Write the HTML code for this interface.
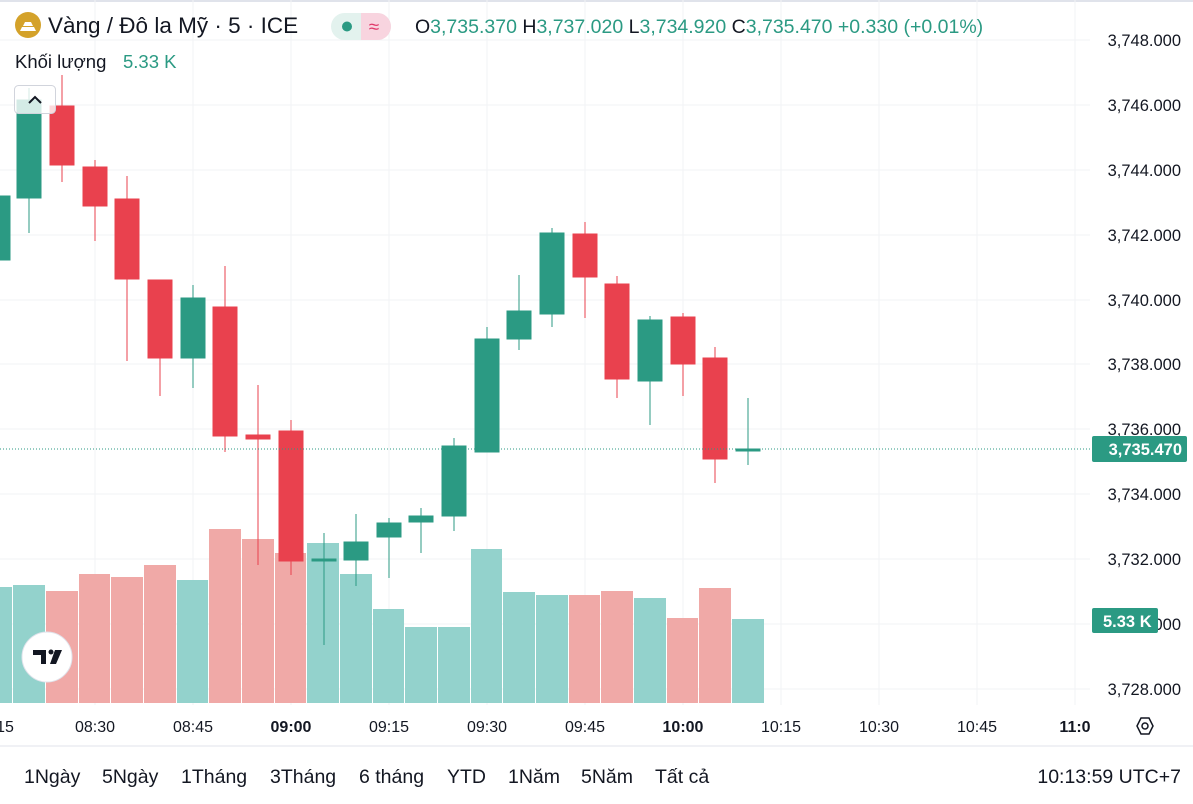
<!DOCTYPE html>
<html><head><meta charset="utf-8"><style>
body{margin:0;width:1193px;height:804px;overflow:hidden;background:#fff;font-family:"Liberation Sans",sans-serif}
svg{position:absolute;left:0;top:0}
</style></head><body>
<svg width="1193" height="804" xmlns="http://www.w3.org/2000/svg" font-family="Liberation Sans, sans-serif">
<rect x="0" y="0" width="1193" height="2" fill="#e0e3eb"/>
<g stroke="#f2f3f5" stroke-width="1">
<line x1="0" y1="40" x2="1090" y2="40"/><line x1="0" y1="105" x2="1090" y2="105"/><line x1="0" y1="170" x2="1090" y2="170"/><line x1="0" y1="235" x2="1090" y2="235"/><line x1="0" y1="300" x2="1090" y2="300"/><line x1="0" y1="364" x2="1090" y2="364"/><line x1="0" y1="429" x2="1090" y2="429"/><line x1="0" y1="494" x2="1090" y2="494"/><line x1="0" y1="559" x2="1090" y2="559"/><line x1="0" y1="624" x2="1090" y2="624"/><line x1="0" y1="689" x2="1090" y2="689"/>
<line x1="95" y1="0" x2="95" y2="705"/><line x1="193" y1="0" x2="193" y2="705"/><line x1="291" y1="0" x2="291" y2="705"/><line x1="389" y1="0" x2="389" y2="705"/><line x1="487" y1="0" x2="487" y2="705"/><line x1="585" y1="0" x2="585" y2="705"/><line x1="683" y1="0" x2="683" y2="705"/><line x1="781" y1="0" x2="781" y2="705"/><line x1="879" y1="0" x2="879" y2="705"/><line x1="977" y1="0" x2="977" y2="705"/><line x1="1075" y1="0" x2="1075" y2="705"/>
</g>
<g>
<rect x="0" y="587" width="12" height="116" fill="#93d2cc"/>
<rect x="13" y="585" width="32" height="118" fill="#93d2cc"/>
<rect x="46" y="591" width="32" height="112" fill="#f0a9a7"/>
<rect x="79" y="574" width="31" height="129" fill="#f0a9a7"/>
<rect x="111" y="577" width="32" height="126" fill="#f0a9a7"/>
<rect x="144" y="565" width="32" height="138" fill="#f0a9a7"/>
<rect x="177" y="580" width="31" height="123" fill="#93d2cc"/>
<rect x="209" y="529" width="32" height="174" fill="#f0a9a7"/>
<rect x="242" y="539" width="32" height="164" fill="#f0a9a7"/>
<rect x="275" y="553" width="31" height="150" fill="#f0a9a7"/>
<rect x="307" y="543" width="32" height="160" fill="#93d2cc"/>
<rect x="340" y="574" width="32" height="129" fill="#93d2cc"/>
<rect x="373" y="609" width="31" height="94" fill="#93d2cc"/>
<rect x="405" y="627" width="32" height="76" fill="#93d2cc"/>
<rect x="438" y="627" width="32" height="76" fill="#93d2cc"/>
<rect x="471" y="549" width="31" height="154" fill="#93d2cc"/>
<rect x="503" y="592" width="32" height="111" fill="#93d2cc"/>
<rect x="536" y="595" width="32" height="108" fill="#93d2cc"/>
<rect x="569" y="595" width="31" height="108" fill="#f0a9a7"/>
<rect x="601" y="591" width="32" height="112" fill="#f0a9a7"/>
<rect x="634" y="598" width="32" height="105" fill="#93d2cc"/>
<rect x="667" y="618" width="31" height="85" fill="#f0a9a7"/>
<rect x="699" y="588" width="32" height="115" fill="#f0a9a7"/>
<rect x="732" y="619" width="32" height="84" fill="#93d2cc"/>
</g>
<g stroke-width="1">
<g fill="#2b9a83" stroke="#2b9a83">
<rect x="0" y="196" width="10" height="64"/>
<line x1="29" y1="88" x2="29" y2="233"/><rect x="17" y="100" width="24" height="98"/>
<line x1="193" y1="285" x2="193" y2="388"/><rect x="181" y="298" width="24" height="60"/>
<line x1="324" y1="533" x2="324" y2="645"/><rect x="312" y="559" width="24" height="2"/>
<line x1="356" y1="514" x2="356" y2="586"/><rect x="344" y="542" width="24" height="18"/>
<line x1="389" y1="518" x2="389" y2="578"/><rect x="377" y="523" width="24" height="14"/>
<line x1="421" y1="508" x2="421" y2="553"/><rect x="409" y="516" width="24" height="6"/>
<line x1="454" y1="438" x2="454" y2="531"/><rect x="442" y="446" width="24" height="70"/>
<line x1="487" y1="327" x2="487" y2="452"/><rect x="475" y="339" width="24" height="113"/>
<line x1="519" y1="275" x2="519" y2="350"/><rect x="507" y="311" width="24" height="28"/>
<line x1="552" y1="228" x2="552" y2="327"/><rect x="540" y="233" width="24" height="81"/>
<line x1="650" y1="316" x2="650" y2="425"/><rect x="638" y="320" width="24" height="61"/>
<line x1="748" y1="398" x2="748" y2="465"/><rect x="736" y="449" width="24" height="2"/>
</g>
<g fill="#e9414e" stroke="#e9414e">
<line x1="62" y1="75" x2="62" y2="182"/><rect x="50" y="106" width="24" height="59"/>
<line x1="95" y1="160" x2="95" y2="241"/><rect x="83" y="167" width="24" height="39"/>
<line x1="127" y1="176" x2="127" y2="361"/><rect x="115" y="199" width="24" height="80"/>
<line x1="160" y1="280" x2="160" y2="396"/><rect x="148" y="280" width="24" height="78"/>
<line x1="225" y1="266" x2="225" y2="452"/><rect x="213" y="307" width="24" height="129"/>
<line x1="258" y1="385" x2="258" y2="565"/><rect x="246" y="435" width="24" height="4"/>
<line x1="291" y1="420" x2="291" y2="575"/><rect x="279" y="431" width="24" height="130"/>
<line x1="585" y1="222" x2="585" y2="318"/><rect x="573" y="234" width="24" height="43"/>
<line x1="617" y1="276" x2="617" y2="398"/><rect x="605" y="284" width="24" height="95"/>
<line x1="683" y1="313" x2="683" y2="396"/><rect x="671" y="317" width="24" height="47"/>
<line x1="715" y1="347" x2="715" y2="483"/><rect x="703" y="358" width="24" height="101"/>
</g>
</g>
<line x1="0" y1="449" x2="1090" y2="449" stroke="#2b9a83" stroke-width="1" stroke-dasharray="1,2"/>
<g font-size="16.5" fill="#131722" text-anchor="end">
<text x="1181" y="46">3,748.000</text><text x="1181" y="111">3,746.000</text><text x="1181" y="176">3,744.000</text><text x="1181" y="241">3,742.000</text><text x="1181" y="306">3,740.000</text><text x="1181" y="370">3,738.000</text><text x="1181" y="435">3,736.000</text><text x="1181" y="500">3,734.000</text><text x="1181" y="565">3,732.000</text><text x="1181" y="630">3,730.000</text><text x="1181" y="695">3,728.000</text>
</g>
<rect x="1092" y="436" width="95" height="26" rx="2" fill="#2b9a83"/>
<text x="1182" y="455" font-size="16.5" font-weight="bold" fill="#fff" text-anchor="end">3,735.470</text>
<rect x="1092" y="608" width="66" height="25" rx="2" fill="#2b9a83"/>
<text x="1103" y="627" font-size="16.5" font-weight="bold" fill="#fff">5.33 K</text>
<g font-size="16" fill="#131722" text-anchor="middle">
<text x="5" y="732">15</text><text x="95" y="732">08:30</text><text x="193" y="732">08:45</text><text x="291" y="732" font-weight="bold">09:00</text><text x="389" y="732">09:15</text><text x="487" y="732">09:30</text><text x="585" y="732">09:45</text><text x="683" y="732" font-weight="bold">10:00</text><text x="781" y="732">10:15</text><text x="879" y="732">10:30</text><text x="977" y="732">10:45</text><text x="1075" y="732" font-weight="bold">11:0</text>
</g>
<rect x="1090" y="706" width="103" height="38" fill="#fff"/>
<polygon points="1137,726 1141,718 1149,718 1153,726 1149,734 1141,734" fill="none" stroke="#131722" stroke-width="1.5"/>
<circle cx="1145" cy="726" r="3" fill="none" stroke="#131722" stroke-width="1.5"/>
<line x1="0" y1="746" x2="1193" y2="746" stroke="#e0e3eb"/>
<g font-size="19.5" fill="#131722">
<text x="24" y="783">1Ngày</text><text x="102" y="783">5Ngày</text><text x="181" y="783">1Tháng</text><text x="270" y="783">3Tháng</text><text x="359" y="783">6 tháng</text><text x="447" y="783">YTD</text><text x="508" y="783">1Năm</text><text x="581" y="783">5Năm</text><text x="655" y="783">Tất cả</text>
<text x="1181" y="783" text-anchor="end">10:13:59 UTC+7</text>
</g>
<circle cx="28" cy="25" r="13" fill="#d4a22a"/>
<path d="M20 31 h16 l-2-4 h-12 z M23 26 h10 l-2-4 h-6 z" fill="#fff"/>
<text x="48" y="33" font-size="22.5" fill="#131722">Vàng / Đô la Mỹ · 5 · ICE</text>
<rect x="331" y="13" width="60" height="27" rx="13.5" fill="#e3f2ee"/>
<path d="M361 13 h16.5 a13.5 13.5 0 0 1 0 27 h-16.5 z" fill="#f8d4df"/>
<circle cx="347" cy="26.5" r="5" fill="#2b9a83"/>
<text x="374" y="33" font-size="19" fill="#e0396a" text-anchor="middle">≈</text>
<text x="415" y="33" font-size="19.5" fill="#131722">O<tspan fill="#2b9a83">3,735.370</tspan> H<tspan fill="#2b9a83">3,737.020</tspan> L<tspan fill="#2b9a83">3,734.920</tspan> C<tspan fill="#2b9a83">3,735.470 +0.330 (+0.01%)</tspan></text>
<text x="15" y="68" font-size="18.5" fill="#131722">Khối lượng</text>
<text x="123" y="68" font-size="18.5" fill="#2b9a83">5.33 K</text>
<rect x="14.5" y="85.5" width="41" height="28" rx="4" fill="rgba(255,255,255,0.8)" stroke="#d1d4dc"/>
<path d="M29 103 l6-6 l6 6" fill="none" stroke="#131722" stroke-width="2"/>
<circle cx="47" cy="657" r="25" fill="#fff" stroke="#e0e3eb"/>
<path d="M33 650 h13 v14 h-5 v-9 h-8 z" fill="#131722"/>
<circle cx="51" cy="652" r="2.5" fill="#131722"/>
<path d="M55 650 h7 l-6 14 h-6 z" fill="#131722"/>
</svg>
</body></html>
